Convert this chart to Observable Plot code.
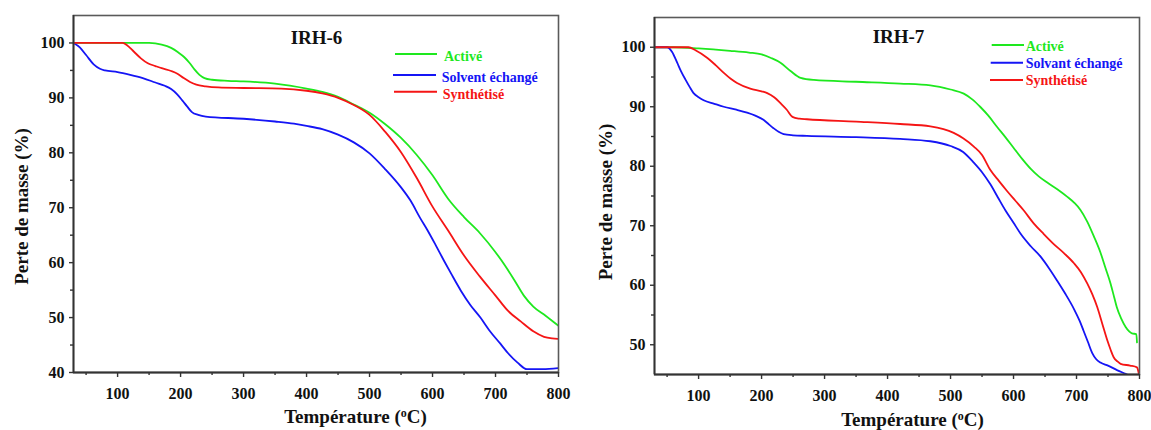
<!DOCTYPE html>
<html>
<head>
<meta charset="utf-8">
<script src="https://cdn.jsdelivr.net/npm/d3@7"></script>
<script src="https://cdn.jsdelivr.net/npm/@observablehq/plot@0.6"></script>
<style>
  body { margin: 0; background: #fff; }
  #wrap { display: flex; width: 1151px; height: 430px; }
  #wrap svg { display: block; }
</style>
</head>
<body>
<div id="wrap"><div id="p6"></div><div id="p7"></div></div>
<script>
// ---------- data ----------
const xDomain = [30, 800];
const xMajor = [100, 200, 300, 400, 500, 600, 700, 800];
const xMinor = [50, 150, 250, 350, 450, 550, 650, 750];

const irh6YDomain = [40, 105];
const irh6YMajor = [40, 50, 60, 70, 80, 90, 100];
const irh6YMinor = [45, 55, 65, 75, 85, 95];
const irh7YDomain = [45, 105];
const irh7YMajor = [50, 60, 70, 80, 90, 100];
const irh7YMinor = [55, 65, 75, 85, 95];

const seriesColors = ["#1ee81e", "#1515f5", "#f51515"];
const irh6Labels = ["Activé", "Solvent échangé", "Synthétisé"];
const irh7Labels = ["Activé", "Solvant échangé", "Synthétisé"];
const panelTitles = ["IRH-6", "IRH-7"];
const xTitle = "Température (oC)";
const yTitle = "Perte de masse (%)";

// IRH-6 : [température °C, masse %]
const irh6Active = [[30,100],[100,100],[150,100],[170,99.7],[185,99.1],[196,98.3],[206,97.4],[214,96.4],[222,95.2],[230,94.2],[238,93.6],[250,93.3],[275,93.1],[300,93.0],[350,92.6],[400,91.7],[425,91.1],[450,90.2],[475,88.8],[500,87.3],[525,85.2],[550,82.7],[575,79.6],[600,75.9],[625,71.6],[650,68.3],[675,65.4],[700,61.9],[715,59.5],[730,56.8],[745,54.0],[760,52.0],[780,50.3],[800,48.5]];
const irh6Solvent = [[30,100],[40,99.2],[50,97.8],[62,96.1],[72,95.3],[80,95.0],[100,94.7],[120,94.2],[140,93.6],[160,92.8],[175,92.2],[185,91.6],[195,90.6],[203,89.5],[210,88.5],[218,87.4],[228,86.9],[240,86.6],[300,86.2],[350,85.7],[380,85.3],[400,84.9],[425,84.3],[450,83.3],[475,81.9],[500,79.9],[525,77.0],[550,73.7],[565,71.3],[580,68.2],[592,65.9],[605,63.2],[618,60.4],[630,57.9],[645,54.9],[660,52.3],[676,50.0],[690,47.7],[708,45.2],[720,43.5],[735,41.8],[750,40.6],[775,40.6],[800,40.8]];
const irh6Synth = [[30,100],[108,100],[115,99.6],[126,98.4],[137,97.2],[148,96.3],[160,95.8],[170,95.4],[185,94.9],[195,94.4],[205,93.6],[215,92.9],[225,92.4],[240,92.1],[260,91.9],[300,91.8],[360,91.7],[400,91.3],[425,90.8],[450,90.0],[475,88.7],[500,86.9],[525,83.8],[550,80.1],[575,75.4],[600,70.2],[625,65.8],[650,61.3],[675,57.5],[700,54.0],[720,51.2],[740,49.3],[760,47.5],[777,46.5],[790,46.2],[800,46.1]];

// IRH-7
const irh7Active = [[30,100],[60,100],[100,99.8],[150,99.4],[180,99.1],[200,98.8],[215,98.2],[230,97.4],[246,96.0],[262,94.85],[283,94.5],[350,94.2],[420,93.9],[468,93.6],[500,92.9],[521,92.2],[535,91.2],[547,90.0],[560,88.5],[574,86.6],[587,84.9],[600,83.1],[614,81.2],[627,79.6],[640,78.3],[653,77.3],[670,76.1],[685,74.9],[697,73.8],[706,72.7],[717,70.7],[728,68.1],[738,65.5],[746,62.9],[754,60.3],[760,57.9],[764,56.3],[771,54.4],[778,53.0],[784,52.2],[788,51.9],[795,51.8],[796,50.4]];
const irh7Solvent = [[30,100],[50,100],[58,99.2],[66,97.4],[72,96.0],[79,94.6],[86,93.3],[92,92.3],[100,91.6],[108,91.1],[125,90.5],[140,90.0],[160,89.5],[177,89.0],[190,88.5],[203,87.8],[212,87.0],[219,86.4],[227,85.8],[235,85.4],[250,85.2],[272,85.1],[350,84.9],[420,84.6],[468,84.2],[500,83.4],[520,82.4],[537,80.6],[550,79.0],[563,77.0],[575,74.8],[587,72.6],[600,70.5],[611,68.7],[627,66.6],[643,64.8],[656,62.9],[669,60.8],[682,58.6],[696,56.0],[705,54.0],[711,52.4],[718,50.5],[725,48.6],[731,47.6],[738,47.0],[750,46.5],[765,45.7],[778,45.1],[790,44.5]];
const irh7Synth = [[30,100],[84,100],[95,99.5],[114,98.2],[127,97.0],[140,95.7],[151,94.7],[161,94.0],[182,93.05],[200,92.6],[209,92.3],[220,91.6],[230,90.6],[240,89.5],[249,88.3],[260,88.0],[272,87.9],[350,87.5],[420,87.1],[468,86.7],[505,85.6],[520,84.7],[537,83.3],[550,81.9],[563,79.4],[577,77.5],[590,75.8],[603,74.2],[616,72.6],[632,70.4],[648,68.6],[663,67.0],[680,65.4],[696,63.7],[707,62.2],[717,60.3],[725,58.5],[733,56.3],[741,53.5],[749,50.7],[754,49.2],[759,47.9],[765,47.2],[770,46.8],[785,46.5],[796,46.2],[798,45.6],[800,44.5]];

// ---------- drawing ----------
const FONT = "'Liberation Serif', 'Times New Roman', Times, serif";

function drawPanel(cfg) {
  const lines = cfg.series.map((pts, i) =>
    Plot.line(pts, {x: d => d[0], y: d => d[1], stroke: seriesColors[i], strokeWidth: 1.8, curve: "monotone-x", clip: true}));
  const svg = Plot.plot({
    width: cfg.width, height: 430,
    marginLeft: cfg.m[0], marginRight: cfg.m[1], marginTop: cfg.m[2], marginBottom: cfg.m[3],
    style: {fontFamily: FONT, fontSize: "16px", fontWeight: "bold", color: "#111", background: "#fff", overflow: "visible"},
    x: {domain: xDomain},
    y: {domain: cfg.yDomain},
    marks: [
      ...lines,
      Plot.frame({stroke: "#5a5a5a", strokeWidth: 1.6}),
      Plot.ruleX([xDomain[0]], {stroke: "#333", strokeWidth: 1.8}),
      Plot.ruleY([cfg.yDomain[0]], {stroke: "#333", strokeWidth: 1.8}),
      Plot.axisX({ticks: xMajor, tickSize: 5, tickPadding: 10, label: null, stroke: "#333", strokeWidth: 1.4}),
      Plot.axisX({ticks: xMinor, tickSize: 3, tickFormat: () => "", label: null, stroke: "#333", strokeWidth: 1.4}),
      Plot.axisY({ticks: cfg.yMajor, tickSize: 4, tickPadding: 5, label: null, stroke: "#333", strokeWidth: 1.4}),
      Plot.axisY({ticks: cfg.yMinor, tickSize: 3, tickFormat: () => "", label: null, stroke: "#333", strokeWidth: 1.4}),
      Plot.text([cfg.title], {text: d => d, frameAnchor: "top", dx: cfg.titleOff[0], dy: cfg.titleOff[1], fontSize: 19, fontWeight: "bold", fill: "#111", lineAnchor: "middle"}),
      Plot.text([yTitle], {text: d => d, frameAnchor: "left", rotate: -90, textAnchor: "middle", lineAnchor: "middle", dx: cfg.yTitleOff[0], dy: cfg.yTitleOff[1], fontSize: 19, fontWeight: "bold", fill: "#111"}),
      Plot.text([xTitle], {text: d => d, frameAnchor: "bottom", textAnchor: "middle", lineAnchor: "middle", dx: cfg.xTitleOff[0], dy: cfg.xTitleOff[1], fontSize: 19, fontWeight: "bold", fill: "#111"})
    ]
  });
  // superscript "o" in the x title
  svg.querySelectorAll("text").forEach(t => {
    if (t.textContent === xTitle) {
      t.textContent = "";
      const ns = "http://www.w3.org/2000/svg";
      const a = document.createElementNS(ns, "tspan"); a.textContent = "Température (";
      const b = document.createElementNS(ns, "tspan"); b.textContent = "o"; b.setAttribute("font-size", "12"); b.setAttribute("dy", "-6");
      const c = document.createElementNS(ns, "tspan"); c.textContent = "C)"; c.setAttribute("dy", "6");
      t.append(a, b, c);
    }
  });
  // legend inside the frame
  const g = d3.select(svg).append("g").attr("font-family", FONT).attr("font-weight", "bold")
    .attr("font-size", 14).attr("text-anchor", "start");
  cfg.legend.forEach((r, i) => {
    g.append("line").attr("x1", r[0]).attr("x2", r[1]).attr("y1", r[2]).attr("y2", r[2])
      .attr("stroke", seriesColors[i]).attr("stroke-width", 2);
    g.append("text").attr("x", r[3]).attr("y", r[4]).attr("text-anchor", "start").attr("fill", seriesColors[i]).text(cfg.labels[i]);
  });
  return svg;
}

document.getElementById("p6").append(drawPanel({
  width: 576, m: [73, 18, 15, 58],
  yDomain: irh6YDomain, yMajor: irh6YMajor, yMinor: irh6YMinor,
  series: [irh6Active, irh6Solvent, irh6Synth], labels: irh6Labels, title: panelTitles[0],
  titleOff: [0.5, 22], yTitleOff: [-52, 12.5], xTitleOff: [39.5, 44.6],
  legend: [[395, 437, 54, 444, 61], [393, 436, 75, 441.7, 81.7], [394, 437, 91.7, 442.7, 99]]
}));
document.getElementById("p7").append(drawPanel({
  width: 575, m: [78, 12, 17, 56],
  yDomain: irh7YDomain, yMajor: irh7YMajor, yMinor: irh7YMinor,
  series: [irh7Active, irh7Solvent, irh7Synth], labels: irh7Labels, title: panelTitles[1],
  titleOff: [1.5, 19], yTitleOff: [-49, 6], xTitleOff: [15.5, 45],
  legend: [[415.7, 448, 45, 449.7, 50.7], [414.7, 447, 62.7, 449.7, 68.3], [414, 447, 80, 449.7, 85.3]]
}));
</script>
</body>
</html>
